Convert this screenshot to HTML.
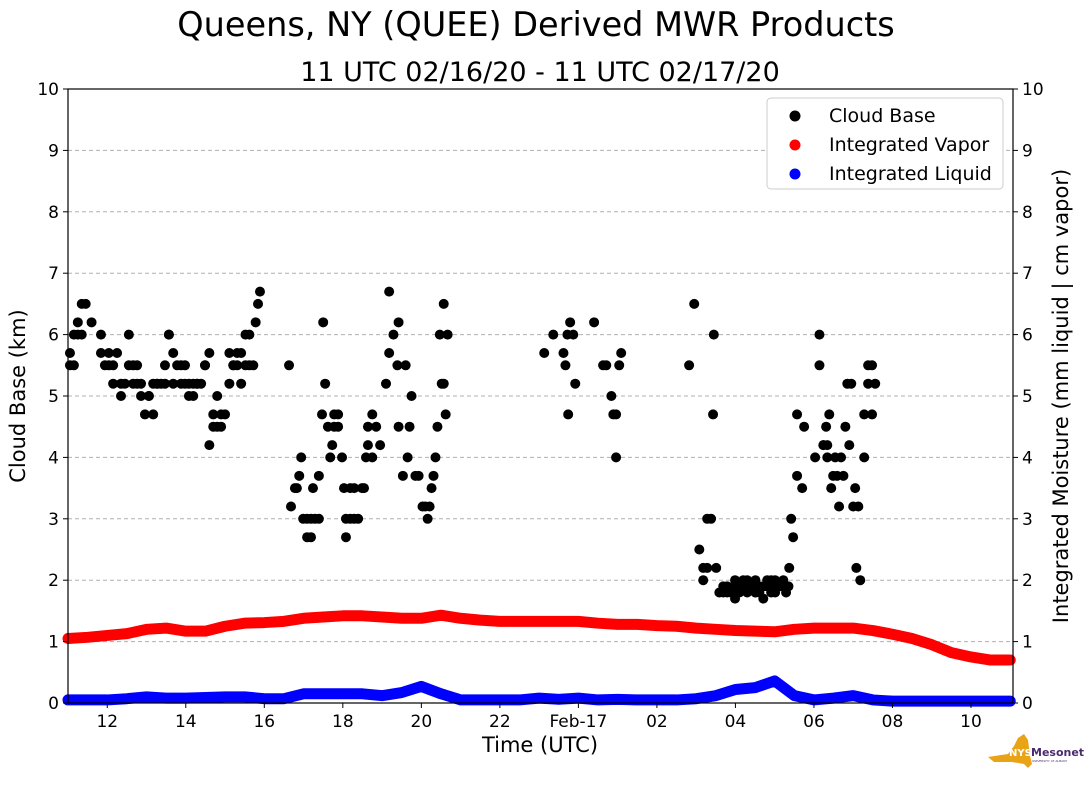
<!DOCTYPE html>
<html><head><meta charset="utf-8"><style>
body{margin:0;background:#fff;font-family:"Liberation Sans","DejaVu Sans",sans-serif;}
svg text{font-family:"DejaVu Sans","Liberation Sans",sans-serif;}
</style></head><body>
<svg id="chart" width="1089" height="804" viewBox="0 0 1089 804" xmlns="http://www.w3.org/2000/svg">
<text x="536" y="36" font-size="33.5" text-anchor="middle">Queens, NY (QUEE) Derived MWR Products</text>
<text x="540" y="81" font-size="27" text-anchor="middle">11 UTC 02/16/20 - 11 UTC 02/17/20</text>
<g id="grid"></g>
<g id="series"></g>
<rect x="68" y="89" width="945" height="614" fill="none" stroke="#000" stroke-width="1.2"/>
<g id="axes"></g>
<text x="540" y="752" font-size="21" text-anchor="middle">Time (UTC)</text>
<text transform="translate(25,396) rotate(-90)" font-size="21" text-anchor="middle">Cloud Base (km)</text>
<text transform="translate(1068,396) rotate(-90)" font-size="21" text-anchor="middle">Integrated Moisture (mm liquid | cm vapor)</text>
<g>
<rect x="767" y="98" width="236" height="91" rx="4" fill="#fff" stroke="#ccc"/>
<circle cx="795" cy="116" r="5.5" fill="#000"/>
<text x="829" y="122" font-size="19">Cloud Base</text>
<circle cx="795" cy="145" r="5.5" fill="#f00"/>
<text x="829" y="151" font-size="19">Integrated Vapor</text>
<circle cx="795" cy="174" r="5.5" fill="#00f"/>
<text x="829" y="180" font-size="19">Integrated Liquid</text>
</g>
<g>
<path d="M988 757 L1008 754 L1014 746 L1018 738 L1024 734 L1028 740 L1030 756 L1032 764 L1028 768 L1024 764 L1012 762 L994 762 Z" fill="#e8a317"/>
<text x="1009" y="756" font-size="10" font-weight="bold" fill="#fff">NYS</text>
<text x="1031" y="756" font-size="11" font-weight="bold" fill="#4b2a6e">Mesonet</text>
<text x="1032" y="762" font-size="3" fill="#4b2a6e">UNIVERSITY AT ALBANY</text>
</g>
</svg>
<script>
// Cloud base: hours since 11 UTC, km
const cbTime=[0.05,0.05,0.15,0.15,0.25,0.25,0.35,0.35,0.45,0.6,0.84,0.84,0.94,1.04,1.04,1.15,1.15,1.25,1.35,1.35,1.45,1.55,1.55,1.66,1.66,1.76,1.76,1.86,1.86,1.96,2.06,2.06,2.17,2.17,2.27,2.27,2.37,2.47,2.47,2.57,2.57,2.68,2.68,2.78,2.88,2.88,2.98,2.98,3.08,3.08,3.19,3.19,3.29,3.29,3.39,3.49,3.49,3.6,3.6,3.7,3.7,3.8,3.8,3.9,3.9,4.0,4.11,4.11,4.21,4.21,4.31,4.31,4.41,4.41,4.52,4.52,4.62,4.62,4.72,4.78,4.84,4.89,
5.63,5.68,5.78,5.83,5.89,5.94,5.99,6.09,6.09,6.19,6.19,6.24,6.29,6.39,6.39,6.47,6.5,6.55,6.62,6.68,6.73,6.78,6.78,6.88,6.88,6.98,7.03,7.08,7.08,7.19,7.19,7.29,7.29,7.39,7.49,7.54,7.59,7.64,7.64,7.75,7.75,7.85,7.95,8.1,8.18,8.18,8.29,8.39,8.42,8.42,8.53,8.6,8.65,8.7,8.75,8.85,8.93,9.03,9.1,9.16,9.21,9.26,9.31,9.36,9.41,9.47,9.52,9.57,9.57,9.62,9.67,
12.13,12.36,12.62,12.67,12.72,12.74,12.79,12.87,12.92,13.4,13.63,13.71,13.84,13.89,13.96,13.96,14.04,14.09,
15.82,15.95,16.08,16.18,16.18,16.28,16.28,16.38,16.43,16.45,16.51,16.59,16.69,16.69,16.79,16.79,16.89,16.89,16.99,16.99,16.99,16.99,17.1,17.1,17.2,17.2,17.2,17.3,17.3,17.4,17.4,17.51,17.51,17.51,17.61,17.61,17.71,17.71,17.81,17.81,17.91,17.91,17.91,18.01,18.01,18.12,18.22,18.29,18.35,18.37,18.42,18.47,18.57,18.57,18.7,18.75,19.03,19.14,19.14,19.24,19.24,19.31,19.34,19.34,19.39,19.44,19.49,19.54,19.59,19.64,19.69,19.75,19.8,19.85,19.9,19.95,20.0,20.05,20.08,20.13,20.18,20.28,20.28,20.38,20.38,20.48,20.48,20.56];
const cbKm=[5.7,5.5,6,5.5,6.2,6,6.5,6,6.5,6.2,6,5.7,5.5,5.5,5.7,5.2,5.5,5.7,5,5.2,5.2,6,5.5,5.5,5.2,5.5,5.2,5,5.2,4.7,5,5,5.2,4.7,5.2,5.2,5.2,5.5,5.2,6,6,5.7,5.2,5.5,5.5,5.2,5.5,5.2,5,5.2,5,5.2,5.2,5.2,5.2,5.5,5.5,4.2,5.7,4.5,4.7,5,4.5,4.5,4.7,4.7,5.2,5.7,5.5,5.5,5.7,5.5,5.2,5.7,6,5.5,6,5.5,5.5,6.2,6.5,6.7,
5.5,3.2,3.5,3.5,3.7,4,3,2.7,3,2.7,3,3.5,3,3.7,3,4.7,6.2,5.2,4.5,4,4.2,4.5,4.7,4.7,4.5,4,3.5,2.7,3,3,3.5,3,3.5,3,3.5,3.5,4,4.5,4.2,4.7,4,4.5,4.2,5.2,6.7,5.7,6,5.5,6.2,4.5,3.7,5.5,4,4.5,5,3.7,3.7,3.2,3.2,3,3.2,3.5,3.7,4,4.5,6,5.2,6.5,5.2,4.7,6,
5.7,6,5.7,5.5,6,4.7,6.2,6,5.2,6.2,5.5,5.5,5,4.7,4.7,4,5.5,5.7,
5.5,6.5,2.5,2.2,2,3,2.2,3,4.7,6,2.2,1.8,1.8,1.9,1.8,1.9,1.8,1.8,1.7,1.9,2,1.8,1.9,1.8,1.9,2,1.9,2,1.8,1.9,1.9,2,1.8,1.8,1.9,1.8,1.7,1.9,2,1.9,1.8,2,1.9,2,1.8,1.9,2,1.8,1.9,2.2,3,2.7,4.7,3.7,3.5,4.5,4,5.5,6,4.2,4.2,4.5,4,4.2,4.7,3.5,3.7,4,3.7,3.2,4,3.7,4.5,5.2,4.2,5.2,3.2,3.5,2.2,3.2,2,4,4.7,5.2,5.5,4.7,5.5,5.2,5.5,4.7,5.5];
// Half-hourly integrated vapor (cm) and liquid (mm), starting 11 UTC
const vapor=[1.05,1.07,1.1,1.13,1.2,1.22,1.17,1.17,1.25,1.3,1.31,1.33,1.38,1.4,1.42,1.42,1.4,1.38,1.38,1.43,1.38,1.35,1.33,1.33,1.33,1.33,1.33,1.3,1.28,1.28,1.26,1.25,1.22,1.2,1.18,1.17,1.16,1.2,1.22,1.22,1.22,1.18,1.12,1.05,0.95,0.82,0.75,0.7,0.7];
const liquid=[0.05,0.05,0.05,0.07,0.1,0.08,0.08,0.09,0.1,0.1,0.07,0.07,0.15,0.15,0.15,0.15,0.12,0.17,0.27,0.15,0.05,0.05,0.05,0.05,0.08,0.06,0.08,0.05,0.06,0.05,0.05,0.05,0.07,0.12,0.22,0.25,0.36,0.12,0.05,0.08,0.12,0.05,0.03,0.03,0.03,0.03,0.03,0.03,0.03];
const xTickHours=[1,3,5,7,9,11,13,15,17,19,21,23];
const xTickLabels=["12","14","16","18","20","22","Feb-17","02","04","06","08","10"];
const yTicks=[0,1,2,3,4,5,6,7,8,9,10];

const X0=68,X1=1013,Y0=703,Y1=89,HSPAN=24.07;
const xs=h=>X0+(h/HSPAN)*(X1-X0);
const ys=v=>Y0-(v/10)*(Y0-Y1);
const NS="http://www.w3.org/2000/svg";
function mk(tag,attrs,parent){const e=document.createElementNS(NS,tag);for(const k in attrs)e.setAttribute(k,attrs[k]);parent.appendChild(e);return e;}
const grid=document.getElementById('grid'),axes=document.getElementById('axes'),ser=document.getElementById('series');
yTicks.forEach(v=>{
  if(v>0&&v<10){const l=mk('line',{x1:X0,x2:X1,y1:ys(v),y2:ys(v),stroke:'#b0b0b0','stroke-dasharray':'4,3'},grid);
  
  }
  mk('line',{x1:X0-5,x2:X0,y1:ys(v),y2:ys(v),stroke:'#000'},axes);
  mk('line',{x1:X1,x2:X1+5,y1:ys(v),y2:ys(v),stroke:'#000'},axes);
  const t=mk('text',{x:X0-9,y:ys(v)+6,'font-size':17,'text-anchor':'end'},axes);t.textContent=v;
  
  
  const t2=mk('text',{x:X1+9,y:ys(v)+6,'font-size':17},axes);t2.textContent=v;
  
  
});
xTickHours.forEach((h,i)=>{
  mk('line',{x1:xs(h),x2:xs(h),y1:Y0,y2:Y0+5,stroke:'#000'},axes);
  const t=mk('text',{x:xs(h),y:Y0+24,'font-size':17,'text-anchor':'middle'},axes);t.textContent=xTickLabels[i];
  
  
});
function lineSeries(arr,color,name){
  const pts=arr.map((v,i)=>[xs(i*0.5),ys(v)]).filter(p=>p[0]<=X1+2);
  const p=mk('polyline',{points:pts.map(p=>p.join(',')).join(' '),fill:'none',stroke:color,'stroke-width':11,'stroke-linecap':'round','stroke-linejoin':'round'},ser);
  
  
}
lineSeries(vapor,'#f00','integrated-vapor-series');
lineSeries(liquid,'#00f','integrated-liquid-series');
cbTime.forEach((h,i)=>{
  const c=mk('circle',{cx:xs(h),cy:ys(cbKm[i]),r:5,fill:'#000'},ser);
  
  
});
</script>
</body></html>
